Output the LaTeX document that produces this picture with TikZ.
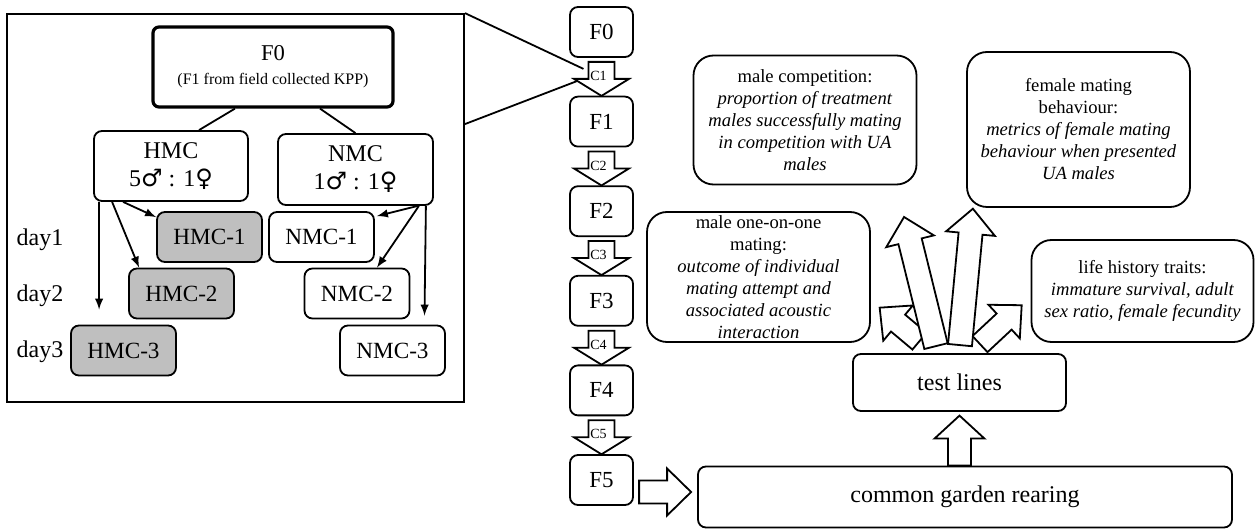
\documentclass[tikz,border=0pt]{standalone}
\usepackage{fontspec}
\setmainfont{Liberation Serif}
\newfontfamily\symfont{DejaVu Sans}
\usetikzlibrary{positioning,calc}

\newcommand{\male}{{\symfont ♂}}
\newcommand{\female}{{\symfont ♀}}

\tikzset{
    box/.style={draw, line width=0.9pt, rounded corners=4pt, align=center, inner sep=0pt},
    subbox/.style={box, minimum width=52.5pt, minimum height=25pt, font=\fontsize{11.6}{14}\selectfont},
    hmcbox/.style={subbox, fill=gray!50},
    genbox/.style={box, minimum width=31.5pt, minimum height=25pt, font=\fontsize{11.5}{13}\selectfont},
    traitbox/.style={box, rounded corners=10pt, minimum width=111.5pt, font=\fontsize{9.3}{11}\selectfont},
    daylabel/.style={font=\fontsize{12}{14}\selectfont, inner sep=0pt},
    clabel/.style={font=\fontsize{7}{8}\selectfont, inner sep=0pt},
    fatline/.style={draw, fill=white, line width=0.9pt},
    pics/fatarrow/.style n args={4}{code={
        \draw[fatline] (-#2,0) -- (-#2,-#1+#4) -- (-#3,-#1+#4) -- (0,-#1)
            -- (#3,-#1+#4) -- (#2,-#1+#4) -- (#2,0) -- cycle;
    }}
}

\begin{document}
\begin{tikzpicture}[x=0.5pt, y=-0.5pt, line width=0.9pt, >=latex]
            \useasboundingbox (0,0) rectangle (1255,529);

            % Left panel
            \node(frame) [draw, minimum width=228.5pt, minimum height=194pt, inner sep=0pt] at (235.5,208) {};
            \node(f0) [box, line width=1.6pt, rounded corners=3pt, minimum width=120pt, minimum height=40pt,
            font=\fontsize{11.3}{13}\selectfont] at (273,67) {F0\\[-1pt]{\fontsize{8}{9}\selectfont (F1 from field collected KPP)}};
            \node(hmc) [box, minimum width=77pt, minimum height=35pt, font=\fontsize{12}{14}\selectfont] at (171,166)
            {HMC\\5\male{} : 1\female};
            \node(nmc) [box, minimum width=77.5pt, minimum height=35.5pt, font=\fontsize{12}{14}\selectfont] at (355.5,169.5)
            {NMC\\1\male{} : 1\female};

            \node(hmc1) [hmcbox] at (209.5,237) {HMC-1};
            \node(hmc2) [hmcbox, below of=hmc1, node distance=28.25pt, xshift=-14pt] {HMC-2};
            \node(hmc3) [hmcbox, below of=hmc2, node distance=28.5pt, xshift=-29pt] {HMC-3};
            \node(nmc1) [subbox] at (321.5,237) {NMC-1};
            \node(nmc2) [subbox, below of=nmc1, node distance=28.25pt, xshift=17.75pt] {NMC-2};
            \node(nmc3) [subbox, below of=nmc2, node distance=28.5pt, xshift=17.75pt] {NMC-3};

            \node(day1) [daylabel] at (40,240) {day1};
            \node(day2) [daylabel, below of=day1, node distance=28pt] {day2};
            \node(day3) [daylabel, below of=day2, node distance=28pt] {day3};

            % Draw Lines
            \draw ($(f0.south)+(-38,0)$) -- ($(hmc.north)+(28,0)$);
            \draw ($(f0.south)+(47,0)$) -- (nmc.north);

            \draw[->] ($(hmc.south west)+(6,0)$) -- ($(hmc3.north west)+(29,-15)$);
            \draw[->] ($(hmc.south west)+(19,0)$) -- ($(hmc2.north west)+(11,0)$);
            \draw[->] ($(hmc.south west)+(30,0)$) -- ($(hmc1.north west)+(0,6)$);
            \draw[->] ($(nmc.south east)+(-16,0)$) -- ($(nmc1.north east)+(2,5)$);
            \draw[->] ($(nmc.south east)+(-15,0)$) -- ($(nmc2.north)+(20,0)$);
            \draw[->] ($(nmc.south east)+(-8,0)$) -- ($(nmc3.north)+(32,-9)$);

            % Generations
            \node(F0) [genbox] at (601.5,32) {F0};
            \node(F1) [genbox, below of=F0, node distance=44.8pt] {F1};
            \node(F2) [genbox, below of=F1, node distance=44.8pt] {F2};
            \node(F3) [genbox, below of=F2, node distance=44.8pt] {F3};
            \node(F4) [genbox, below of=F3, node distance=44.8pt] {F4};
            \node(F5) [genbox, below of=F4, node distance=44.8pt] {F5};

            \pic[rotate=180] at ($(F0.south)+(0,4)$) {fatarrow={34}{13}{27.5}{17}};
            \pic[rotate=180] at ($(F1.south)+(0,4)$) {fatarrow={34}{13}{27.5}{17}};
            \pic[rotate=180] at ($(F2.south)+(0,4)$) {fatarrow={34}{13}{27.5}{17}};
            \pic[rotate=180] at ($(F3.south)+(0,4)$) {fatarrow={34}{13}{27.5}{17}};
            \pic[rotate=180] at ($(F4.south)+(0,4)$) {fatarrow={34}{13}{27.5}{17}};
            \node(c1) [clabel] at ($(F0.south)+(-3,18)$) {C1};
            \node(c2) [clabel] at ($(F1.south)+(-3,18)$) {C2};
            \node(c3) [clabel] at ($(F2.south)+(-3,18)$) {C3};
            \node(c4) [clabel] at ($(F3.south)+(-3,18)$) {C4};
            \node(c5) [clabel] at ($(F4.south)+(-3,18)$) {C5};

            % Zoom lines
            \coordinate(zoomtop) at ($(F0.south)+(-18,11)$);
            \coordinate(zoombottom) at ($(F0.south)+(-24,23)$);
            \draw (frame.north east) -- (zoomtop);
            \draw ($(frame.north east)+(0,111)$) -- (zoombottom);

            % Tests
            \node(common) [box, minimum width=267pt, minimum height=30.5pt, font=\fontsize{12}{14}\selectfont]
            at (965,497) {common garden rearing};
            \node(test) [box, minimum width=106.5pt, minimum height=28.5pt, font=\fontsize{12}{14}\selectfont]
            at (959.5,382.5) {test lines};

            \node(competition) [traitbox, minimum height=64.5pt] at (805,120)
            {male competition:\\ \textit{proportion of treatment}\\ \textit{males successfully mating}\\
            \textit{in competition with UA}\\ \textit{males}};
            \node(femalebox) [traitbox, minimum height=77.5pt] at (1078.5,129.5)
            {female mating\\ behaviour:\\ \textit{metrics of female mating}\\ \textit{behaviour when presented}\\
            \textit{UA males}};
            \node(oneonone) [traitbox, minimum height=65pt] at (758.5,277)
            {male one-on-one\\ mating:\\ \textit{outcome of individual}\\ \textit{mating attempt and}\\
            \textit{associated acoustic}\\ \textit{interaction}};
            \node(life) [traitbox, minimum width=111pt, minimum height=51pt] at (1142.5,291)
            {life history traits:\\ \textit{immature survival, adult}\\ \textit{sex ratio, female fecundity}};

            % Block arrows
            \pic[rotate=-90] at ($(common.west)+(-58,-5)$) {fatarrow={52}{11.5}{23.5}{24}};
            \pic at (test.south |- common.north) {fatarrow={50}{11.5}{25}{23}};
            \pic[rotate=50] at ($(test.north)+(-40,-12)$) {fatarrow={52}{11}{23}{24}};
            \pic[rotate=-47] at ($(test.north)+(20.5,-9)$) {fatarrow={57}{11}{23}{24}};
            \pic[rotate=13.9] at ($(test.north)+(-23.5,-7)$) {fatarrow={133}{12}{24.5}{25}};
            \pic[rotate=-5.4] at ($(test.north)+(0.5,-8)$) {fatarrow={137}{12}{24.5}{25}};

        \end{tikzpicture}
\end{document}
